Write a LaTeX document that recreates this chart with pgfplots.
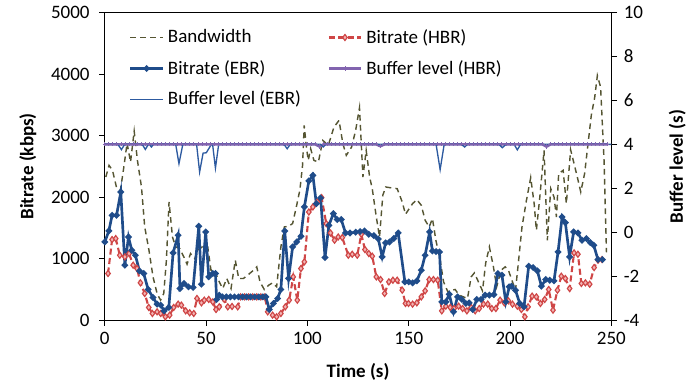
\documentclass[border=0pt]{standalone}
\usepackage{fontspec}
\setmainfont{Carlito}
\usepackage{pgfplots}
\pgfplotsset{compat=1.18}

\definecolor{bwcol}{RGB}{85,85,50}
\definecolor{hbrcol}{RGB}{207,70,70}
\definecolor{hbrfill}{RGB}{242,180,180}
\definecolor{ebrcol}{RGB}{31,76,138}
\definecolor{bufhbr}{RGB}{130,100,175}
\definecolor{bufebr}{RGB}{45,90,160}

\pgfplotsset{
  bwstyle/.style={bwcol, line width=0.75pt, dash pattern=on 3pt off 2.2pt},
  hbrstyle/.style={hbrcol, line width=1.1pt, dash pattern=on 3.2pt off 1.8pt,
    mark=diamond*, mark size=1.6pt,
    mark options={solid, draw=hbrcol, fill=hbrfill, line width=0.6pt}},
  ebrstyle/.style={ebrcol, line width=1.4pt, mark=*, mark size=0.9pt,
    mark options={solid, fill=ebrcol}},
  bufhbrstyle/.style={bufhbr, line width=1.4pt, mark=+, mark size=1.1pt,
    mark options={solid, line width=0.5pt}},
  bufebrstyle/.style={bufebr, line width=0.7pt},
  chartbase/.style={
    scale only axis, width=266.8pt, height=162pt,
    xmin=0, xmax=250,
    /pgf/number format/assume math mode=true,
    /pgf/number format/1000 sep={},
    tick align=outside, major tick length=3pt,
    tick style={black, line width=0.5pt},
    axis line style={black, line width=0.6pt},
    tick label style={font=\normalsize},
  },
}

\begin{document}
\begin{tikzpicture}
\begin{axis}[chartbase,
  ymin=0, ymax=5000,
  ytick={0,1000,2000,3000,4000,5000},
  xtick={0,50,100,150,200,250},
  xtick pos=bottom, ytick pos=left,
  xlabel={\textbf{Time (s)}},
  ylabel={\textbf{Bitrate (kbps)}},
  xlabel style={at={(axis description cs:0.5,-0.169)}, anchor=center},
  ylabel style={at={(axis description cs:-0.152,0.5)}, anchor=center},
  yticklabel style={xshift=-1.5pt},
  clip=false,
]
\coordinate (sw) at (rel axis cs:0,0);

% measured link bandwidth
\addplot[bwstyle] coordinates {
(0.5,2327)(2.1,2516)(3.8,2435)(5.8,2154)(7.7,2110)(9.4,2489)(11,2878)(12.7,2570)
(14.5,3073)(16.1,2597)(18.1,2164)(19.7,1515)(21.8,1136)(23.8,703)(25.8,433)(27.5,325)
(29.1,433)(30.4,974)(31.7,1920)(33.4,1352)(35,1190)(37,1163)(39,1028)(40.6,909)
(42.3,1082)(44.4,1001)(46,1136)(48.4,1200)(50.8,1190)(52.4,812)(54.1,812)(56.5,622)
(58.2,514)(60.2,677)(62.3,514)(64.4,974)(66.1,677)(68.4,677)(70.5,731)(73,800)
(75,866)(76.6,622)(78.7,498)(80.9,568)(82.8,606)(84.8,541)(86.9,1190)(88.6,1515)
(90.7,1526)(92.7,1570)(94.7,1867)(96.3,2121)(97.6,2516)(98.4,3166)(99.6,2787)(100.4,2597)
(101.6,2787)(103.2,2597)(105.4,2570)(107.6,2922)(110.3,2841)(113.1,3138)(115.6,3247)(117.5,2868)
(119.2,2679)(121.8,2814)(123.8,3084)(125.7,3453)(127.4,2327)(129,2760)(130.7,2327)(132,2137)
(134,1677)(135.6,1352)(137.2,2029)(138.6,2164)(141.9,2148)(144.3,2137)(146.8,1920)(148.4,1721)
(151.9,1894)(154,1959)(156.2,1867)(158.1,1623)(160.1,1515)(161.7,1651)(163.4,1299)(165.5,974)
(167.2,622)(169.3,460)(171.3,487)(172.9,498)(174.9,406)(177,378)(179,352)(180.8,703)
(182.4,768)(184.4,622)(186.4,476)(188,931)(189.8,1190)(191.8,866)(193.4,541)(195.6,812)
(197.6,866)(199.2,812)(201.2,622)(202.7,487)(203.9,866)(205.9,1515)(208.1,1948)(210.2,2316)
(211.9,1894)(213,1461)(214.7,2002)(216.8,2760)(218.4,1299)(220.1,2137)(221.7,2002)(222.9,1677)
(224,2381)(226.2,2435)(227.8,1894)(229.9,2770)(231.6,2543)(233.2,2327)(234.9,2083)(236.8,2381)
(238.5,2868)(240.1,3328)(241.8,3625)(243.1,3977)(244.7,3788)(246.4,2597)(247.6,1100)
};

% bitrate selected by the HBR scheme
\addplot[hbrstyle] coordinates {
(1.6,758)(3.6,1310)(5.4,1326)(7.4,1055)(9.9,1028)(12,1082)(14,893)(15.9,839)
(17.6,606)(19.7,433)(21.7,206)(23.5,108)(25.8,135)(27.6,108)(29.9,54)(32,81)
(34,206)(36.2,260)(37.8,244)(39.9,151)(41.9,119)(43.9,108)(45.5,352)(47.7,281)
(49.1,325)(51.3,336)(53.3,297)(54.9,173)(56.5,216)(59,336)(60.7,216)(62.8,222)
(65.6,216)(67,378)(69,378)(71,378)(73,378)(75,378)(77,378)(79,378)
(80.4,135)(82.8,81)(84.8,54)(86.9,108)(89.1,216)(91,325)(93,703)(95,325)
(96.8,839)(98.5,947)(100.7,1758)(102.7,1840)(104.9,1920)(107,1992)(109.3,1569)(111.4,1417)
(113.4,1299)(115.2,1352)(117.2,1342)(120.2,1055)(122.1,1071)(124.6,1055)(126.6,1396)(128.4,1147)
(130.3,1082)(132,1039)(134,703)(136.1,660)(138.1,433)(140.2,622)(142.2,649)(144.3,649)
(146.8,487)(148.4,271)(149.9,271)(151.9,260)(154,281)(156.2,378)(158.1,476)(160.1,660)
(162.2,660)(164.3,649)(166.3,151)(168.3,227)(170.5,206)(172.4,189)(174.6,227)(176.6,189)
(178.7,151)(180.8,206)(182.8,151)(184.8,189)(186.9,260)(189,260)(191,189)(193,189)
(195.1,325)(197.2,281)(199.2,314)(201.2,260)(203.6,227)(205.6,173)(207.3,54)(208.9,216)
(210.9,390)(213,378)(215,271)(217.1,336)(219.1,498)(221.2,162)(223.4,487)(225.3,714)
(227.3,677)(229.4,514)(231.6,1093)(233.5,1071)(235.2,596)(237.2,606)(239.3,584)(241.5,855)
(243.4,974)(245.4,985)
};

% bitrate selected by the EBR scheme
\addplot[ebrstyle] coordinates {
(0,1271)(2,1450)(3.6,1704)(5.8,1704)(7.9,2083)(9.9,893)(11.7,1352)(13.3,1136)
(15.1,1055)(17.1,800)(19.2,758)(21.4,498)(23.8,368)(25.8,260)(27.6,244)(29.3,151)
(31.6,206)(33.7,1093)(36.2,1380)(37.1,514)(39.1,596)(41.3,541)(43.6,531)(46.4,1526)
(47.7,584)(49.8,1434)(51.3,703)(53.3,758)(54.6,758)(55.2,336)(56.5,406)(58,378)
(60,378)(62,378)(64,378)(66,378)(68,378)(70,378)(72,378)(74,378)
(76,378)(78,378)(79.5,378)(81.2,173)(83.2,271)(85.3,352)(86.9,498)(88.8,1450)
(90.7,677)(92.7,1190)(94.7,1271)(96.8,1364)(98.5,1840)(100.7,2262)(102.7,2354)(104.4,1894)
(106.5,1986)(108.7,1018)(110.6,1542)(112.8,1732)(114.7,1635)(116.7,1635)(118.8,1417)(121,1417)
(123.8,1429)(126,1440)(128.2,1450)(130.3,1396)(132.8,1375)(135,1320)(136.9,1028)(138.6,1255)
(140.5,1271)(142.6,1326)(144.8,1417)(148.1,622)(150,622)(151.9,606)(154,638)(156.2,812)
(158.1,1055)(160.3,1434)(161.7,1125)(163.5,1115)(165.2,1109)(166.3,297)(168.3,297)(170,422)
(172.1,135)(174.1,378)(176.2,336)(178.2,271)(179.8,281)(181.6,173)(183.6,336)(185.7,336)
(187.7,406)(189.8,406)(192,415)(194,758)(196,731)(197.9,297)(199.6,541)(200.7,552)
(202.7,487)(204.8,271)(206.9,216)(209.2,877)(211.4,855)(213.5,800)(215.5,552)(217.6,660)
(219.6,649)(221.7,638)(223.7,1109)(225.7,1677)(227.3,1586)(229.4,1028)(231.4,1434)(233.5,1417)
(235.5,1299)(237.7,1326)(239.6,1261)(241.3,1218)(243.4,985)(245.6,985)
};
\end{axis}

\begin{axis}[chartbase,
  ymin=-4, ymax=10,
  ytick={-4,-2,0,2,4,6,8,10},
  yticklabels={-4,-2,0,2,4,6,8,10},
  axis y line*=right, axis x line=none,
  ylabel={\textbf{Buffer level (s)}},
  ylabel style={at={(axis description cs:1.13,0.5)}, anchor=center},
  legend columns=2,
  legend cell align=left,
  legend style={draw=none, fill=none, at={(rel axis cs:0.036,0.972)}, anchor=north west,
    row sep=3.5pt, font=\normalsize,
    /tikz/every even column/.append style={column sep=12pt}},
]
\addlegendimage{bwstyle}
\addlegendentry{Bandwidth}
\addlegendimage{hbrstyle}
\addlegendentry{Bitrate (HBR)}
\addlegendimage{ebrstyle}
\addlegendentry{Bitrate (EBR)}

% buffer occupancy, HBR scheme
\addplot[bufhbrstyle] coordinates {
(0,4)(2,4)(4,4)(6,4)(8,4)(10,4)(12,4)(14,4)(16,4)(18,4)(20,4)(22,4)(24,4)(26,4)
(28,4)(30,4)(32,4)(34,4)(36,4)(38,4)(40,4)(42,4)(44,4)(46,4)(48,4)(50,4)(52,4)
(54,4)(56,4)(58,4)(60,4)(62,4)(64,4)(66,4)(68,4)(70,4)(72,4)(74,4)(76,4)(78,4)
(80,4)(82,4)(84,4)(86,4)(88,4)(90,4)(92,4)(94,4)(96,4)(98,4)(100,4)(102,4)(104,4)
(106,3.9)(108,4)(110,4)(112,4)(114,4)(116,4)(118,4)(120,4)(122,4)(124,4)(126,4)
(128,4)(130,4)(132,4)(134,4)(136,3.92)(138,4)(140,4)(142,4)(144,4)(146,4)(148,4)
(150,4)(152,4)(154,4)(156,4)(158,4)(160,4)(162,4)(164,4)(166,4)(168,4)(170,4)
(172,4)(174,4)(176,4)(178,4)(180,4)(182,4)(184,4)(186,4)(188,4)(190,4)(192,4)
(194,4)(196,4)(198,4)(200,4)(202,4)(204,4)(206,4)(208,4)(210,4)(212,4)(214,4)
(216,4)(218,3.9)(220,4)(222,4)(224,4)(226,4)(228,4)(230,4)(232,4)(234,4)(236,4)
(238,4)(240,4)(242,4)(244,4)(246,4)(248,4)
};
\addlegendentry{Buffer level (HBR)}

% buffer occupancy, EBR scheme
\addplot[bufebrstyle] coordinates {
(0,4)(6.5,4)(8.2,3.76)(9.8,4)(18.5,4)(20,3.77)(21.5,4)(22,4)(23,3.88)(24,4)
(35,4)(36.6,3.12)(38.5,4)(45.3,4)(46.8,2.74)(48.5,3.6)(50.1,3.62)(52.6,4)
(53.2,4)(54.6,2.92)(56.2,4)(88.5,4)(90,3.8)(91.5,4)(106.5,4)(107.8,3.88)(109,4)
(163.5,4)(165.5,2.85)(167.5,4)(176,4)(177.6,3.88)(179,4)(194.5,4)(196.2,3.85)(198,4)
(202,4)(203.6,3.75)(205.2,4)(250,4)
};
\addlegendentry{Buffer level (EBR)}
\end{axis}

\path (sw) ++(-55.2pt,-36.3pt) rectangle ++(364pt,204.6pt);
\end{tikzpicture}
\end{document}
